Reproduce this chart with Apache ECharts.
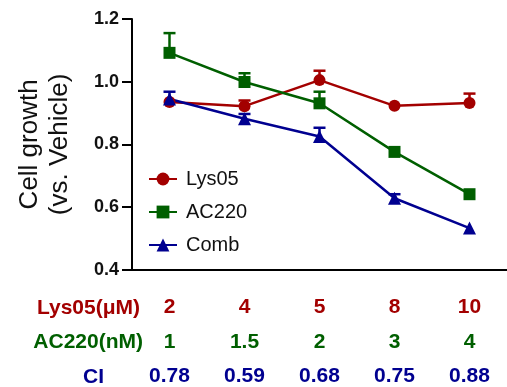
<!DOCTYPE html>
<html>
<head>
<meta charset="utf-8">
<script src="https://cdn.jsdelivr.net/npm/echarts@6/dist/echarts.min.js"></script>
<style>html,body{margin:0;padding:0;background:#fff}#c{width:507px;height:387px}</style>
</head>
<body>
<div id="c"></div>
<script>
var lysDose = ['2', '4', '5', '8', '10'];
var acDose = ['1', '1.5', '2', '3', '4'];
var ciVals = ['0.78', '0.59', '0.68', '0.75', '0.88'];
var categories = ['p1', 'p2', 'p3', 'p4', 'p5'];
var yTicks = { min: 0.4, max: 1.2, interval: 0.2 };

var lys05 = [0.935, 0.922, 1.005, 0.923, 0.932];
var lys05Err = [0.0, 0.018, 0.03, 0.0, 0.03];
var ac220 = [1.092, 0.999, 0.931, 0.776, 0.641];
var ac220Err = [0.063, 0.028, 0.037, 0.0, 0.0];
var comb = [0.945, 0.882, 0.825, 0.628, 0.533];
var combErr = [0.023, 0.015, 0.028, 0.013, 0.0];

var RED = '#a30000', GREEN = '#005f00', NAVY = '#000090';
var FONT = 'Liberation Sans, Arial, sans-serif';

function errData(vals, errs) {
  return vals.map(function (v, i) { return [i, v, errs[i]]; });
}
function errSeries(name, vals, errs, color) {
  return {
    type: 'custom', name: name, z: 3,
    data: errData(vals, errs),
    encode: { x: 0, y: 1 },
    renderItem: function (params, api) {
      var x = api.value(0), y = api.value(1), e = api.value(2);
      if (!e) return null;
      var p0 = api.coord([x, y]);
      var p1 = api.coord([x, y + e]);
      return {
        type: 'group',
        children: [
          { type: 'line', shape: { x1: p0[0], y1: p0[1], x2: p1[0], y2: p1[1] }, style: { stroke: color, lineWidth: 2.5 } },
          { type: 'line', shape: { x1: p1[0] - 6, y1: p1[1], x2: p1[0] + 6, y2: p1[1] }, style: { stroke: color, lineWidth: 2.5 } }
        ]
      };
    }
  };
}
function lineSeries(name, vals, color, symbol) {
  return {
    type: 'line', name: name, data: vals, symbol: symbol, symbolSize: symbol === 'triangle' ? 13 : 12,
    itemStyle: { color: color }, lineStyle: { color: color, width: 2.5 }, z: 2
  };
}

var chart = echarts.init(document.getElementById('c'));
chart.setOption({
  animation: false,
  grid: { left: 132, top: 19, bottom: 117, width: 380 },
  legend: {
    data: ['Lys05', 'AC220', 'Comb'],
    orient: 'vertical', left: 143, top: 163,
    itemWidth: 28, itemHeight: 16, itemGap: 11,
    textStyle: { fontFamily: FONT, fontSize: 20, color: '#111', lineHeight: 22, padding: [0, 0, 0, 4] }
  },
  xAxis: {
    type: 'category', data: categories, boundaryGap: true,
    axisLine: { lineStyle: { color: '#000', width: 2 } },
    axisTick: { alignWithLabel: true, length: 10, lineStyle: { color: '#000', width: 2 } },
    axisLabel: {
      margin: 20.5, interval: 0,
      formatter: function (v, i) {
        return '{a|' + lysDose[i] + '}\n{b|' + acDose[i] + '}\n{c|' + ciVals[i] + '}';
      },
      rich: {
        a: { color: RED, fontSize: 21, fontWeight: 'bold', fontFamily: FONT, lineHeight: 34.5 },
        b: { color: GREEN, fontSize: 21, fontWeight: 'bold', fontFamily: FONT, lineHeight: 34.5 },
        c: { color: NAVY, fontSize: 21, fontWeight: 'bold', fontFamily: FONT, lineHeight: 34.5 }
      }
    }
  },
  yAxis: {
    type: 'value', min: yTicks.min, max: yTicks.max, interval: yTicks.interval,
    name: 'Cell growth\n(vs. Vehicle)', nameLocation: 'middle', nameGap: 57,
    nameTextStyle: { fontFamily: FONT, fontSize: 26, color: '#111', lineHeight: 30 },
    splitLine: { show: false },
    axisLine: { show: true, lineStyle: { color: '#000', width: 2 } },
    axisTick: { show: true, length: 10, lineStyle: { color: '#000', width: 2 } },
    axisLabel: {
      margin: 13, color: '#111', fontSize: 18, fontWeight: 'bold', fontFamily: FONT,
      formatter: function (v) { return v.toFixed(1); }
    }
  },
  graphic: [
    { type: 'text', right: 367, top: 298, style: { text: 'Lys05(μM)', fill: RED, font: 'bold 21px ' + FONT } },
    { type: 'text', right: 364, top: 332, style: { text: 'AC220(nM)', fill: GREEN, font: 'bold 21px ' + FONT } },
    { type: 'text', left: 83, top: 367, style: { text: 'CI', fill: NAVY, font: 'bold 21px ' + FONT } }
  ],
  series: [
    lineSeries('Lys05', lys05, RED, 'circle'),
    lineSeries('AC220', ac220, GREEN, 'rect'),
    lineSeries('Comb', comb, NAVY, 'triangle'),
    errSeries('errLys05', lys05, lys05Err, RED),
    errSeries('errAC220', ac220, ac220Err, GREEN),
    errSeries('errComb', comb, combErr, NAVY)
  ]
});
</script>
</body>
</html>
